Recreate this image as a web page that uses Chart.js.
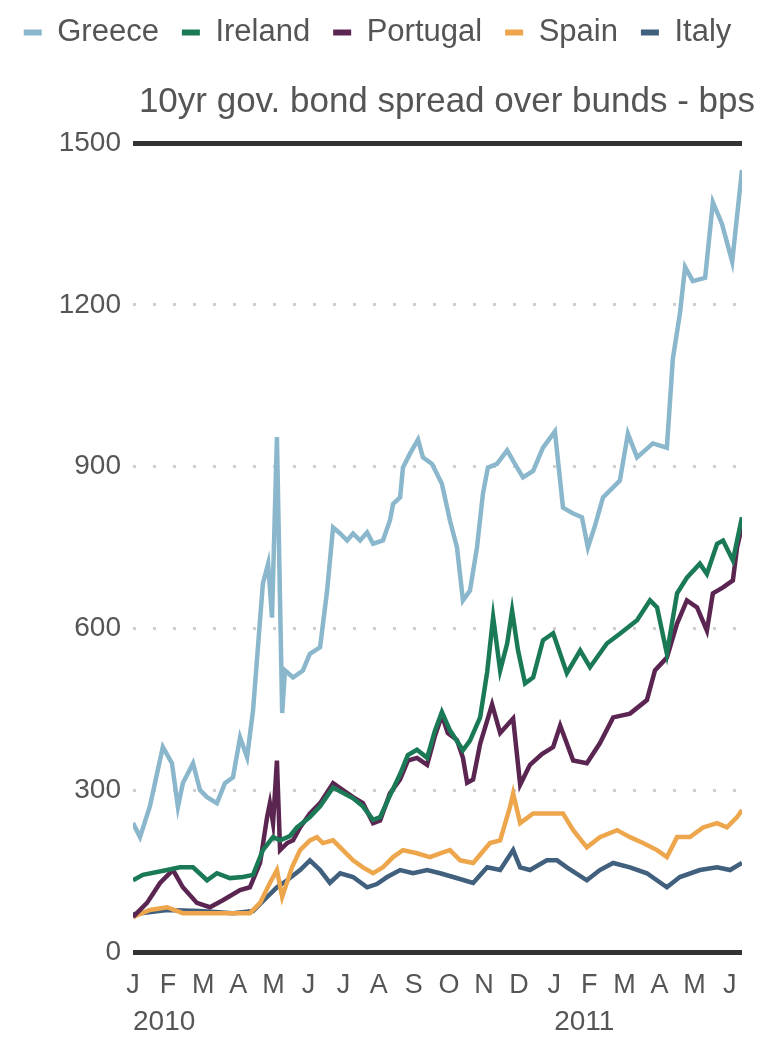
<!DOCTYPE html>
<html>
<head>
<meta charset="utf-8">
<script src="https://cdn.jsdelivr.net/npm/chart.js@4.4.0/dist/chart.umd.min.js"></script>
<style>
  html, body { margin: 0; padding: 0; background: #fff; }
  #wrap { width: 770px; height: 1037px; }
</style>
</head>
<body>
<div id="wrap"><canvas id="chart"></canvas></div>
<script>
// x positions are in months since Jan 2010 (0 = start of Jan 2010)
const monthLabels = ['J','F','M','A','M','J','J','A','S','O','N','D','J','F','M','A','M','J'];
const yearLabels = ['2010', '2011'];
const yearPos = [0, 12];
const yTicks = [0, 300, 600, 900, 1200, 1500];

const greeceMonths = [0,0.20,0.48,0.85,1.11,1.28,1.42,1.71,1.91,2.11,2.39,2.62,2.85,3.05,3.25,3.42,3.70,3.85,3.96,4.10,4.25,4.33,4.56,4.84,5.04,5.33,5.53,5.70,5.90,6.10,6.27,6.47,6.67,6.84,7.12,7.32,7.41,7.61,7.69,7.89,8.12,8.26,8.52,8.80,9.03,9.23,9.40,9.60,9.80,9.97,10.11,10.37,10.66,10.88,11.11,11.40,11.68,12.02,12.25,12.54,12.79,12.96,13.16,13.39,13.87,14.10,14.36,14.81,15.21,15.38,15.58,15.73,15.95,16.30,16.52,16.78,17.07,17.35];
const greeceValues = [239,213,270,380,350,269,313,350,300,287,276,313,324,398,361,448,683,720,620,955,443,522,509,522,553,565,670,787,776,763,776,763,778,757,763,800,831,843,898,924,950,917,905,868,800,750,652,670,750,850,898,905,930,905,880,892,935,965,824,813,806,750,790,843,874,961,917,943,935,1100,1183,1270,1244,1250,1390,1350,1280,1450];

const irelandMonths = [0,0.28,0.97,1.34,1.71,2.11,2.39,2.76,3.13,3.42,3.70,3.99,4.19,4.47,4.67,5.04,5.33,5.70,5.98,6.27,6.55,6.84,7.04,7.32,7.61,7.83,8.09,8.38,8.60,8.80,9.03,9.40,9.60,9.89,10.09,10.26,10.46,10.66,10.80,10.97,11.17,11.40,11.68,11.97,12.36,12.74,13.02,13.50,13.87,14.36,14.73,14.93,15.21,15.50,15.78,16.15,16.35,16.64,16.81,17.09,17.35];
const irelandValues = [133,143,152,157,157,133,146,137,139,143,189,213,207,215,231,250,270,305,295,285,270,245,250,290,330,365,375,360,410,445,411,374,392,435,519,621,522,572,633,559,498,509,578,591,517,559,528,572,590,615,652,639,553,665,694,720,701,757,763,726,806];

const portugalMonths = [0,0.40,0.77,1.14,1.42,1.82,2.19,2.56,3.05,3.33,3.62,3.82,3.90,3.99,4.10,4.19,4.39,4.56,4.76,5.04,5.33,5.70,5.98,6.27,6.55,6.84,7.04,7.32,7.61,7.83,8.09,8.38,8.60,8.80,8.97,9.23,9.40,9.52,9.69,9.89,10.23,10.46,10.83,11.03,11.31,11.65,11.97,12.17,12.54,12.93,13.30,13.68,14.16,14.64,14.87,15.21,15.50,15.78,16.07,16.35,16.52,16.81,17.09,17.21,17.35];
const portugalValues = [65,91,128,152,120,91,83,96,115,120,165,250,276,239,355,189,202,207,231,257,276,313,300,287,276,239,244,294,320,355,360,347,400,439,406,393,360,314,320,386,459,406,433,310,347,367,380,420,355,350,387,435,442,467,522,546,609,652,639,596,665,676,689,750,790];

const spainMonths = [0,0.48,0.97,1.42,1.91,2.39,2.85,3.33,3.62,3.90,4.10,4.25,4.53,4.76,5.04,5.24,5.41,5.70,5.98,6.27,6.55,6.84,7.12,7.41,7.69,8.09,8.46,8.75,9.03,9.32,9.69,10.17,10.46,10.74,10.83,11.03,11.40,11.97,12.25,12.54,12.93,13.30,13.79,14.16,14.53,14.93,15.21,15.50,15.87,16.24,16.64,16.92,17.21,17.35];
const spainValues = [65,78,83,72,72,72,72,72,91,128,152,102,157,189,207,213,202,207,189,170,157,146,157,176,189,183,176,183,189,170,165,202,207,269,294,239,257,257,257,226,194,213,226,213,202,189,176,213,213,231,239,231,250,263];

const italyMonths = [0,0.97,1.91,2.85,3.42,3.82,4.10,4.39,4.76,5.04,5.33,5.61,5.90,6.27,6.67,6.95,7.24,7.61,7.98,8.38,8.75,9.12,9.69,10.09,10.46,10.83,11.03,11.31,11.79,12.08,12.36,12.93,13.30,13.68,14.16,14.64,15.21,15.58,16.15,16.64,17.01,17.35];
const italyValues = [70,78,76,72,76,102,120,133,152,170,152,128,146,139,120,126,139,152,146,152,146,139,128,157,152,189,157,152,170,170,157,133,152,165,157,146,120,139,152,157,152,165];

const series = [
    { label: 'Greece',   months: greeceMonths,   values: greeceValues,   color: '#8ab7cc' },
    { label: 'Ireland',  months: irelandMonths,  values: irelandValues,  color: '#1b7a56' },
    { label: 'Portugal', months: portugalMonths, values: portugalValues, color: '#5b2552' },
    { label: 'Spain',    months: spainMonths,    values: spainValues,    color: '#eda64c' },
    { label: 'Italy',    months: italyMonths,    values: italyValues,    color: '#40607e' }
];

const fontFamily = '"Liberation Sans", Arial, sans-serif';
const textColor = '#555';

var ctx = document.getElementById('chart').getContext('2d');

var myChart = new Chart(ctx, {
    type: 'line',
    data: {
        datasets: series.map(s => ({
            label: s.label,
            data: s.months.map((m, i) => ({ x: m, y: s.values[i] })),
            borderColor: s.color,
            backgroundColor: s.color,
            borderWidth: 4.5,
            pointRadius: 0,
            tension: 0,
            fill: false
        }))
    },
    options: {
        responsive: true,
        maintainAspectRatio: false,
        animation: false,
        layout: {
            padding: { left: 0, right: 15, top: -6, bottom: 0 }
        },
        plugins: {
            legend: {
                position: 'top',
                weight: 3000,
                labels: {
                    color: textColor,
                    font: { family: fontFamily, size: 31 },
                    boxWidth: 18,
                    boxHeight: 6,
                    padding: 23,
                    generateLabels: chart =>
                        Chart.defaults.plugins.legend.labels.generateLabels(chart)
                            .map(l => Object.assign(l, { lineWidth: 0 }))
                }
            },
            title: {
                display: true,
                text: '10yr gov. bond spread over bunds - bps',
                align: 'end',
                color: textColor,
                font: { family: fontFamily, size: 35, weight: 'normal' },
                padding: { top: 23, bottom: 20 }
            },
            tooltip: { enabled: false }
        },
        scales: {
            x: {
                type: 'linear',
                position: 'bottom',
                min: 0,
                max: 17.35,
                afterBuildTicks: axis => {
                    axis.ticks = monthLabels.map((_, i) => ({ value: i }));
                },
                afterFit: axis => { axis.height = 50; },
                ticks: {
                    autoSkip: false,
                    maxRotation: 0,
                    padding: 17,
                    color: textColor,
                    font: { family: fontFamily, size: 27 },
                    callback: v => monthLabels[v]
                },
                grid: { display: false, drawTicks: false },
                border: { display: false }
            },
            xYear: {
                type: 'linear',
                position: 'bottom',
                min: 0,
                max: 17.35,
                afterBuildTicks: axis => {
                    axis.ticks = yearPos.map(v => ({ value: v }));
                },
                afterFit: axis => { axis.height = 35; },
                ticks: {
                    autoSkip: false,
                    maxRotation: 0,
                    align: 'start',
                    padding: 3,
                    color: textColor,
                    font: { family: fontFamily, size: 28 },
                    callback: v => yearLabels[yearPos.indexOf(v)]
                },
                grid: { display: false, drawTicks: false },
                border: { display: false }
            },
            y: {
                min: 0,
                max: 1500,
                afterBuildTicks: axis => {
                    axis.ticks = yTicks.map(v => ({ value: v }));
                },
                afterFit: axis => { axis.width = 133; },
                ticks: {
                    padding: 12,
                    color: textColor,
                    font: { family: fontFamily, size: 28 },
                    callback: v => String(v)
                },
                grid: {
                    drawTicks: false,
                    color: c => (c.tick && (c.tick.value === 0 || c.tick.value === 1500)) ? '#333' : '#cfcfcf',
                    lineWidth: c => (c.tick && (c.tick.value === 0 || c.tick.value === 1500)) ? 5 : 3
                },
                border: {
                    display: false,
                    dash: c => (c.tick && (c.tick.value === 0 || c.tick.value === 1500)) ? [] : [3, 17]
                }
            },
            yRight: {
                position: 'right',
                afterFit: axis => { axis.width = 13; },
                ticks: { display: false },
                grid: { display: false, drawTicks: false },
                border: { display: false }
            }
        }
    }
});
</script>
</body>
</html>
